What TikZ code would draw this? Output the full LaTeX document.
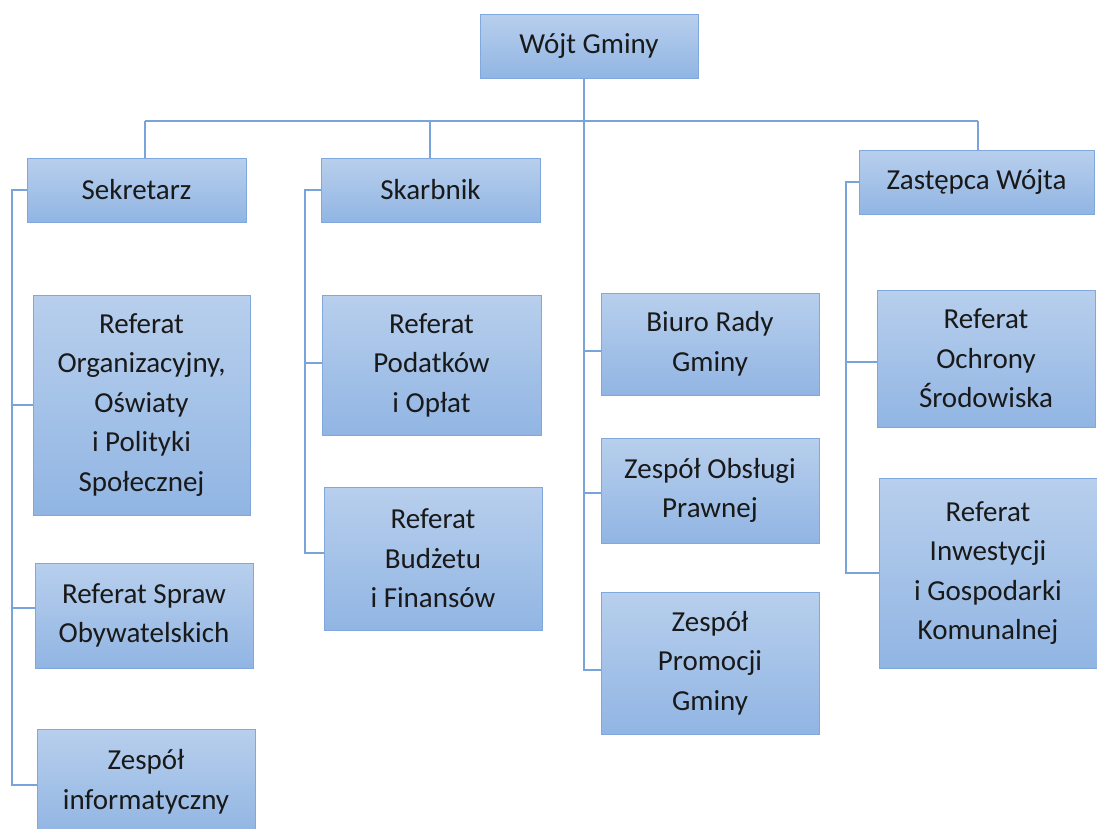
\documentclass[tikz,border=0pt]{standalone}
\usepackage{fontspec}
\setmainfont{Carlito}
\definecolor{boxtop}{RGB}{184,207,237}
\definecolor{boxbot}{RGB}{145,181,227}
\definecolor{boxline}{RGB}{128,168,220}
\definecolor{connline}{RGB}{120,163,219}
\begin{document}
\begin{tikzpicture}[x=1pt,y=-1pt,
  box/.style={draw=boxline, line width=1pt, top color=boxtop, bottom color=boxbot,
    font=\fontsize{29}{39.5}\selectfont, align=center, inner sep=0pt, text=black!90},
  conn/.style={draw=connline, line width=1.6pt}]
\useasboundingbox (0,0) rectangle (1097,828);
% boxes
\node[box, minimum width=218pt, minimum height=64pt] (wojt) at (589,46) {Wójt Gminy};
\node[box, minimum width=219pt, minimum height=64pt] (sek) at (136.5,190) {Sekretarz};
\node[box, minimum width=219pt, minimum height=64pt] (skarb) at (430.5,190) {Skarbnik};
\node[box, minimum width=235pt, minimum height=64pt] (zast) at (976.5,182) {Zastępca Wójta};
\node[box, minimum width=217pt, minimum height=220pt] (org) at (141.5,405) {Referat\\Organizacyjny,\\Oświaty\\i Polityki\\Społecznej};
\node[box, minimum width=218pt, minimum height=105pt] (spraw) at (144,615.5) {Referat Spraw\\Obywatelskich};
\node[box, minimum width=218pt, minimum height=106pt] (inf) at (146,782) {Zespół\\informatyczny};
\node[box, minimum width=219pt, minimum height=140pt] (pod) at (431.5,365) {Referat\\Podatków\\i Opłat};
\node[box, minimum width=218pt, minimum height=143pt] (bud) at (433,558.5) {Referat\\Budżetu\\i Finansów};
\node[box, minimum width=218pt, minimum height=102pt] (biuro) at (710,344) {Biuro Rady\\Gminy};
\node[box, minimum width=218pt, minimum height=105pt] (praw) at (710,490.5) {Zespół Obsługi\\Prawnej};
\node[box, minimum width=218pt, minimum height=142pt] (promo) at (710,663) {Zespół\\Promocji\\Gminy};
\node[box, minimum width=218pt, minimum height=137pt] (ochr) at (986,358.5) {Referat\\Ochrony\\Środowiska};
\node[box, minimum width=218pt, minimum height=190pt] (inw) at (988,573) {Referat\\Inwestycji\\i Gospodarki\\Komunalnej};
% connector junctions
\coordinate (bL) at (145,121);
\coordinate (bS) at (430,121);
\coordinate (bW) at (584,121);
\coordinate (bR) at (978,121);
\coordinate (sekV) at (12,190);
\coordinate (skaV) at (305,190);
\coordinate (zasV) at (846,182);
% connectors
\path[conn] (bL) -- (bR);
\path[conn] (bL) -- (bL |- sek.north);
\path[conn] (bS) -- (bS |- skarb.north);
\path[conn] (bR) -- (bR |- zast.north);
\path[conn] (bW |- wojt.south) -- (584,670) -- (promo.west |- 0,670);
\path[conn] (584,351) -- (biuro.west |- 0,351);
\path[conn] (584,493) -- (praw.west |- 0,493);
\path[conn] (sek.west) -- (sekV) -- (12,785) -- (inf.west |- 0,785);
\path[conn] (12,405) -- (org.west |- 0,405);
\path[conn] (12,608) -- (spraw.west |- 0,608);
\path[conn] (skarb.west) -- (skaV) -- (305,553) -- (bud.west |- 0,553);
\path[conn] (305,363) -- (pod.west |- 0,363);
\path[conn] (zast.west) -- (zasV) -- (846,573) -- (inw.west |- 0,573);
\path[conn] (846,362) -- (ochr.west |- 0,362);
\end{tikzpicture}
\end{document}
